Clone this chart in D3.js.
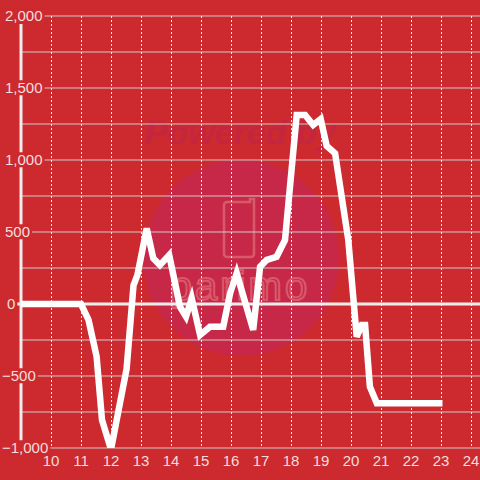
<!DOCTYPE html>
<html>
<head>
<meta charset="utf-8">
<script src="https://cdn.jsdelivr.net/npm/d3@7"></script>
<style>
  html, body { margin: 0; padding: 0; background: #cc2a2e; }
  svg { display: block; }
</style>
</head>
<body>
<div id="chart"></div>
<script>
// hour of day -> value
const hours = [9, 11, 11.25, 11.52, 11.7, 12, 12.52, 12.75, 12.88, 13.19, 13.41, 13.63, 13.94,
  14.3, 14.5, 14.69, 14.97, 15.3, 15.74, 15.97, 16.19, 16.74, 16.97, 17.19, 17.52, 17.8,
  18.19, 18.47, 18.74, 18.99, 19.19, 19.47, 19.69, 19.91, 20.19, 20.36, 20.47, 20.63, 20.86, 23.05];
const values = [0, 0, -110, -365, -805, -1010, -450, 130, 200, 525, 317, 270, 340,
  -19, -88, 40, -215, -158, -158, 74, 213, -180, 259, 306, 328, 444,
  1313, 1313, 1243, 1285, 1097, 1046, 745, 444, -227, -146, -146, -574, -690, -690];

const xTicks = [10, 11, 12, 13, 14, 15, 16, 17, 18, 19, 20, 21, 22, 23, 24];
const yTicks = [-1000, -500, 0, 500, 1000, 1500, 2000];
const yGrid = d3.range(-1000, 2001, 250);

const W = 480, H = 480;
const BG = '#cc2a2e';
const TXT = '#f6dede';

const svg = d3.select('#chart').append('svg')
  .attr('width', W).attr('height', H)
  .style('font-family', '"Liberation Sans", Arial, sans-serif');

svg.append('rect').attr('width', W).attr('height', H).attr('fill', BG);

const x = d3.scaleLinear().domain([9, 24.3]).range([21, 480]);
const y = d3.scaleLinear().domain([-1000, 2000]).range([448, 16]);

svg.append('clipPath').attr('id', 'plot')
  .append('rect').attr('x', 0).attr('y', y(2000)).attr('width', W).attr('height', y(-1000) - y(2000));

// watermark
const wm = svg.append('g');
wm.append('circle').attr('cx', 241).attr('cy', 258).attr('r', 98).attr('fill', '#c82848');
wm.append('text').attr('x', 240).attr('y', 144).attr('text-anchor', 'middle')
  .style('font-size', '34px').style('font-weight', 'bold').style('font-style', 'italic')
  .attr('fill', '#c42640').text('Powered by');
wm.append('path')
  .attr('d', 'M230,202 h20 v-3 h4 v55 a3,3 0 0 1 -3,3 h-24 a3,3 0 0 1 -3,-3 v-49 a3,3 0 0 1 3,-3 z')
  .attr('fill', 'none').attr('stroke', '#d85a6a').attr('stroke-width', 2.5);
wm.append('text').attr('x', 240).attr('y', 300).attr('text-anchor', 'middle')
  .style('font-size', '40px').style('letter-spacing', '3px')
  .attr('fill', 'none').attr('stroke', '#d85a6a').attr('stroke-width', 2)
  .text('parimo');

// grid
const g = svg.append('g');
g.selectAll('.hg').data(yGrid.filter(v => v !== 0)).join('line')
  .attr('x1', x(9)).attr('x2', W)
  .attr('y1', d => y(d)).attr('y2', d => y(d))
  .attr('stroke', '#d0c8c8').attr('stroke-width', 1.2);

g.selectAll('.vg').data(xTicks).join('line')
  .attr('x1', d => Math.round(x(d)) + 0.5).attr('x2', d => Math.round(x(d)) + 0.5)
  .attr('y1', y(2000)).attr('y2', y(-1000))
  .attr('stroke', '#eee').attr('stroke-width', 1).attr('stroke-dasharray', '2,2');

// zero line and y axis line
g.append('line').attr('x1', 14).attr('x2', W).attr('y1', y(0)).attr('y2', y(0))
  .attr('stroke', '#eee').attr('stroke-width', 3);
g.append('line').attr('x1', x(9)).attr('x2', x(9)).attr('y1', 24).attr('y2', y(-1000))
  .attr('stroke', '#eee').attr('stroke-width', 3);

// data line
const line = d3.line().x(d => x(d[0])).y(d => y(d[1]));
svg.append('path')
  .datum(hours.map((h, i) => [h, values[i]]))
  .attr('clip-path', 'url(#plot)')
  .attr('d', line)
  .attr('fill', 'none').attr('stroke', '#fff').attr('stroke-width', 6.5);

// y labels with background
const fmt = d3.format(',');
const yl = svg.append('g');
yTicks.forEach(v => {
  const t = yl.append('text').attr('x', v === 0 ? 7 : (v > 0 ? 5 : 2)).attr('y', y(v)).attr('dy', '0.35em')
    .attr('text-anchor', 'start').attr('fill', TXT).style('font-size', '15px').text(fmt(v));
  const b = t.node().getBBox();
  yl.insert('rect', 'text').attr('x', b.x - 1).attr('y', b.y + 1).attr('width', b.width + 3).attr('height', b.height - 2)
    .attr('fill', BG);
});

// x labels
svg.append('g').selectAll('text').data(xTicks).join('text')
  .attr('x', d => x(d)).attr('y', 466).attr('text-anchor', 'middle')
  .attr('fill', TXT).style('font-size', '15px').text(d => d);
</script>
</body>
</html>
